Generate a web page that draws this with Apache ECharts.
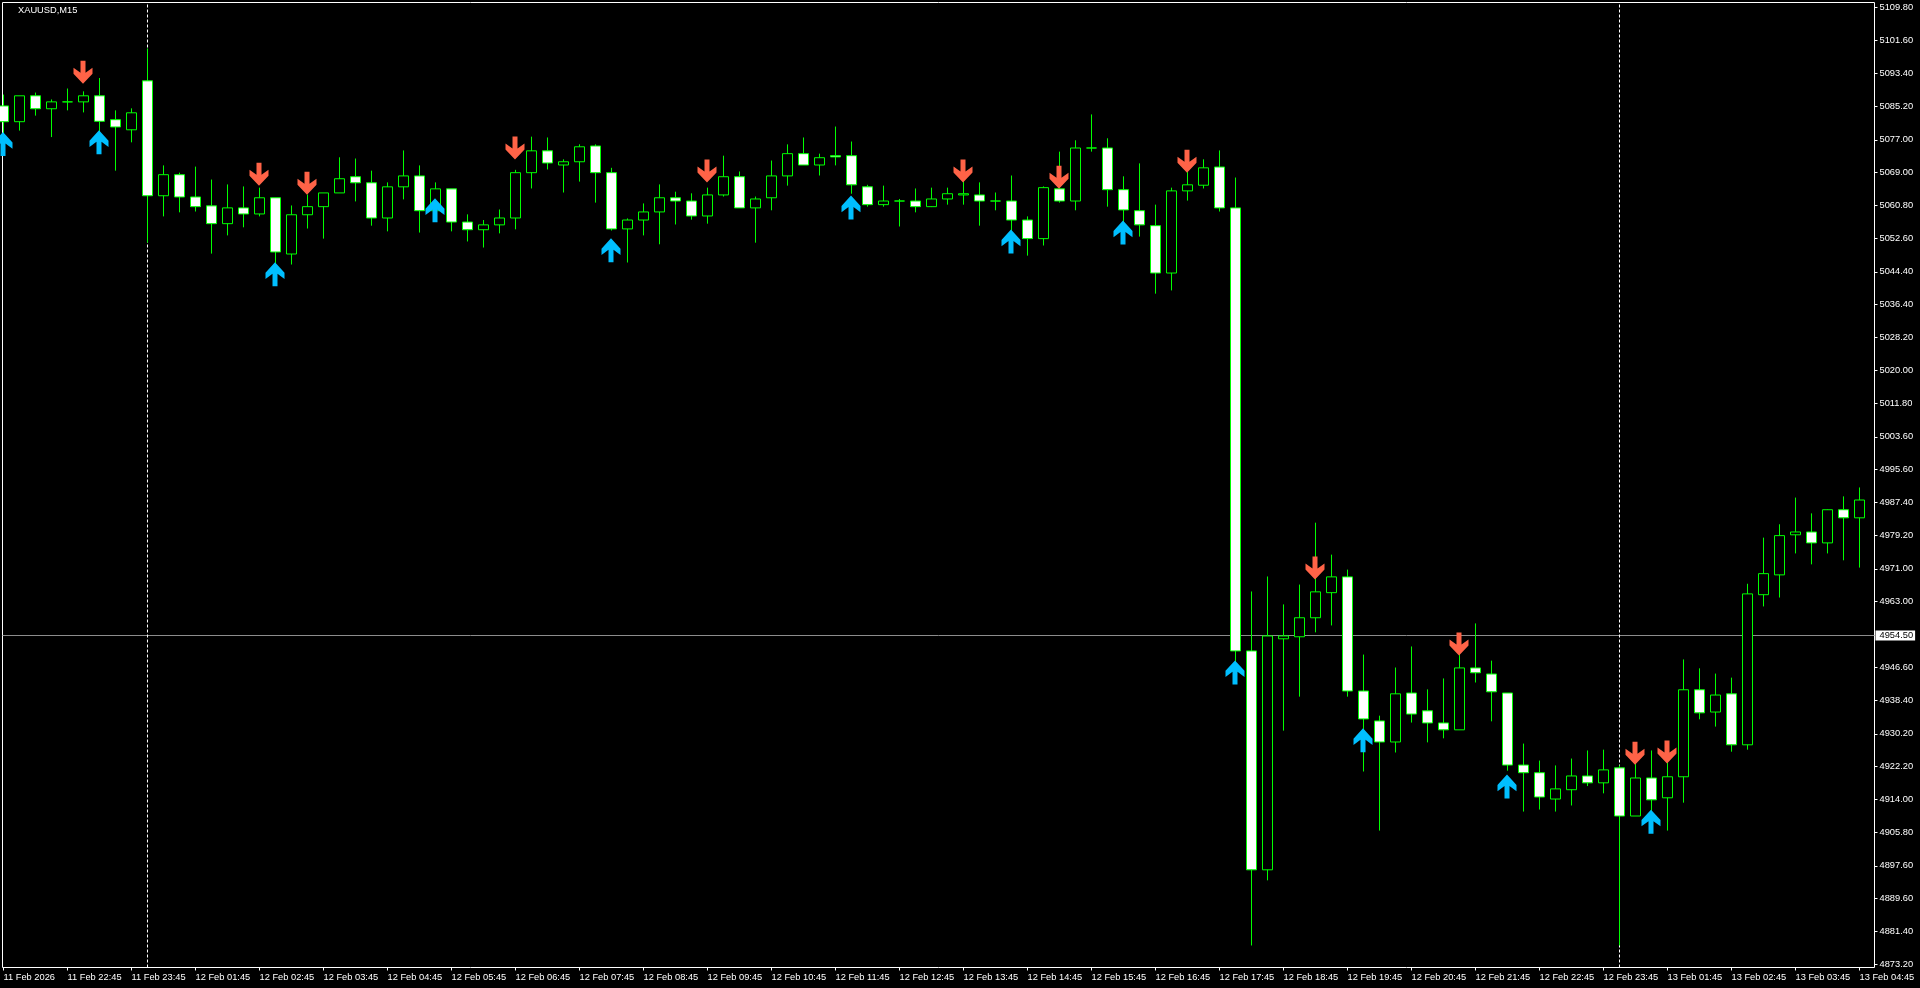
<!DOCTYPE html>
<html>
<head>
<meta charset="utf-8">
<title>XAUUSD,M15</title>
<style>
  html, body { margin: 0; padding: 0; background: #000; }
  #main { width: 1920px; height: 988px; }
</style>
<script src="https://cdn.jsdelivr.net/npm/echarts@6/dist/echarts.min.js"></script>
</head>
<body>
<div id="main"></div>
<script>
// 蜡烛数据，读自原图
var opens = [5085.4,5081.5,5087.9,5084.7,5086.4,5086.4,5087.9,5082.0,5079.5,5091.6,
  5063.2,5068.4,5062.9,5060.7,5056.3,5060.2,5058.7,5062.7,5048.8,5058.5,
  5060.5,5063.9,5067.9,5066.4,5057.7,5065.4,5068.1,5059.5,5064.9,5056.7,
  5054.8,5056.0,5057.7,5068.9,5074.3,5070.8,5071.6,5075.5,5068.9,5055.0,
  5057.2,5059.2,5062.7,5061.9,5058.2,5063.4,5067.9,5060.2,5062.7,5068.1,
  5073.6,5070.8,5073.1,5073.1,5065.4,5061.0,5061.9,5061.9,5060.5,5062.4,
  5063.4,5063.4,5061.9,5061.9,5057.2,5052.6,5064.9,5061.9,5075.0,5075.0,
  5064.7,5059.5,5055.8,5044.1,5064.4,5065.8,5070.3,5060.2,4950.7,4896.6,
  4953.7,4954.2,4958.9,4965.1,4969.0,4940.8,4933.4,4928.2,4940.3,4935.9,
  4932.9,4931.2,4946.5,4945.0,4940.3,4922.5,4920.6,4914.1,4916.4,4919.8,
  4918.1,4921.8,4909.9,4919.3,4914.4,4919.6,4941.1,4935.6,4940.1,4927.5,
  4964.6,4969.5,4979.4,4980.1,4977.4,4985.6,4983.6];
var closes = [5081.5,5087.9,5084.7,5086.4,5086.4,5087.9,5081.6,5080.2,5083.7,5063.2,
  5068.4,5062.9,5060.5,5056.3,5060.2,5058.7,5062.7,5049.3,5058.5,5060.5,
  5063.9,5067.4,5066.4,5057.7,5065.4,5068.1,5059.5,5064.9,5056.7,5054.8,
  5056.0,5057.7,5068.9,5074.3,5071.3,5071.6,5075.3,5068.9,5055.0,5057.2,
  5059.2,5062.7,5061.9,5058.2,5063.4,5067.9,5060.2,5062.4,5068.1,5073.6,
  5070.8,5072.6,5072.8,5065.9,5061.0,5061.9,5061.9,5060.5,5062.4,5063.7,
  5063.7,5061.9,5061.9,5057.2,5052.6,5065.2,5061.9,5075.0,5075.0,5064.7,
  5059.7,5056.0,5044.1,5064.4,5065.9,5070.1,5060.2,4950.7,4896.6,4954.4,
  4954.4,4958.9,4965.3,4969.0,4940.8,4933.9,4928.2,4940.1,4935.1,4932.9,
  4931.2,4946.5,4945.3,4940.6,4922.5,4920.6,4914.6,4916.6,4919.8,4918.1,
  4921.3,4909.9,4919.3,4913.9,4919.6,4941.1,4935.4,4939.8,4927.5,4964.8,
  4969.8,4979.2,4980.1,4977.4,4985.6,4983.6,4988.0];
var lows = [5076.9,5079.3,5083.0,5077.7,5084.3,5083.8,5078.5,5069.4,5076.4,5051.6,
  5058.1,5059.1,5059.3,5048.9,5053.4,5055.4,5058.1,5046.4,5046.2,5055.1,
  5052.6,5063.9,5061.8,5055.8,5054.4,5062.3,5054.1,5058.7,5054.4,5051.9,
  5050.4,5053.9,5054.9,5065.0,5069.7,5064.0,5066.7,5061.5,5054.6,5046.7,
  5053.4,5051.2,5056.1,5057.3,5056.3,5063.0,5060.2,5051.6,5059.6,5065.7,
  5070.8,5068.2,5070.7,5063.7,5060.5,5060.5,5055.6,5059.1,5060.4,5061.0,
  5061.0,5055.8,5059.6,5053.8,5048.4,5050.9,5061.5,5059.6,5074.1,5060.5,
  5056.3,5053.1,5039.0,5039.8,5062.0,5065.0,5059.3,4947.9,4877.9,4894.0,
  4931.0,4939.4,4955.3,4957.0,4939.4,4920.9,4906.3,4925.6,4933.0,4928.1,
  4929.1,4931.2,4942.9,4933.3,4921.1,4911.0,4911.5,4911.0,4912.5,4917.3,
  4915.5,4877.9,4909.9,4909.6,4906.3,4913.2,4933.8,4932.0,4925.8,4926.3,
  4961.7,4963.9,4974.8,4972.1,4974.8,4973.1,4971.3];
var highs = [5088.2,5087.9,5088.7,5087.0,5089.7,5089.0,5092.3,5084.3,5084.8,5099.6,
  5070.7,5068.9,5070.4,5067.2,5066.0,5065.5,5065.2,5062.7,5060.8,5063.5,
  5063.9,5072.7,5072.4,5069.4,5066.5,5074.4,5070.7,5066.5,5064.9,5058.6,
  5057.2,5059.8,5069.6,5077.8,5077.6,5072.2,5075.9,5075.9,5070.1,5057.6,
  5061.3,5066.0,5064.2,5063.8,5065.2,5073.1,5069.2,5063.0,5071.9,5075.9,
  5077.6,5073.6,5080.3,5076.6,5065.9,5065.7,5062.4,5065.0,5065.2,5065.2,
  5067.8,5066.5,5064.0,5068.2,5058.1,5065.5,5074.1,5076.9,5083.3,5077.4,
  5068.0,5071.2,5061.0,5065.2,5071.1,5072.2,5074.4,5067.7,4965.4,4969.1,
  4962.2,4967.1,4982.4,4974.5,4970.8,4949.8,4934.7,4946.6,4951.8,4941.2,
  4943.9,4950.8,4957.5,4948.3,4940.3,4927.8,4923.6,4922.4,4924.1,4926.1,
  4926.3,4922.4,4924.4,4926.1,4925.3,4948.6,4946.4,4945.1,4944.1,4967.3,
  4978.7,4982.0,4988.6,4984.7,4985.7,4988.9,4991.1];

// 箭头信号：蜡烛序号 + 价格
var upArrowIndex = [0,6,17,27,38,53,63,70,77,85,94,103];
var upArrowPrice = [5076.0,5076.4,5043.8,5059.6,5049.7,5060.3,5051.9,5054.1,4945.4,4928.6,4917.2,4908.5];
var downArrowIndex = [5,16,19,32,44,60,66,74,82,91,102,104];
var downArrowPrice = [5093.7,5068.5,5066.3,5075.0,5069.3,5069.3,5067.8,5071.7,4971.2,4952.4,4925.4,4925.7];

// 坐标轴刻度
var priceTicks = [5109.8,5101.6,5093.4,5085.2,5077,5069,5060.8,5052.6,5044.4,5036.4,5028.2,5020,5011.8,5003.6,
  4995.6,4987.4,4979.2,4971,4963,4946.6,4938.4,4930.2,4922.2,4914,4905.8,4897.6,4889.6,4881.4,4873.2];
var timeLabels = ['11 Feb 2026','11 Feb 22:45','11 Feb 23:45','12 Feb 01:45','12 Feb 02:45','12 Feb 03:45',
  '12 Feb 04:45','12 Feb 05:45','12 Feb 06:45','12 Feb 07:45','12 Feb 08:45','12 Feb 09:45','12 Feb 10:45',
  '12 Feb 11:45','12 Feb 12:45','12 Feb 13:45','12 Feb 14:45','12 Feb 15:45','12 Feb 16:45','12 Feb 17:45',
  '12 Feb 18:45','12 Feb 19:45','12 Feb 20:45','12 Feb 21:45','12 Feb 22:45','12 Feb 23:45','13 Feb 01:45',
  '13 Feb 02:45','13 Feb 03:45','13 Feb 04:45'];
var currentPrice = 4954.5;
var separatorIndex = [9, 101];

var font = '"Liberation Sans"';
var downArrowPath = 'path://M7 0H12V12L19 7V13L9.5 23L0 13V7L7 12Z';
var upArrowPath = 'path://M7 23H12V11L19 16V10L9.5 0L0 10V16L7 11Z';

var candleData = opens.map(function (o, i) {
  return [i, o, closes[i], lows[i], highs[i]];
});
// 每4根蜡烛一个时间刻度
var timeTicks = timeLabels.map(function (t, i) { return i * 4; });

var myChart = echarts.init(document.getElementById('main'));
var option = {
  animation: false,
  backgroundColor: '#000',
  title: {
    text: 'XAUUSD,M15',
    left: 18,
    top: 6,
    padding: 0,
    textStyle: { color: '#fff', fontSize: 9.3, fontWeight: 'normal', fontFamily: font }
  },
  grid: {
    show: true,
    left: 2.5,
    top: 2.5,
    width: 1872,
    height: 965,
    backgroundColor: '#000',
    borderColor: '#fff',
    borderWidth: 1
  },
  xAxis: {
    type: 'value',
    min: -0.0625,
    max: 116.9375,
    splitLine: { show: false },
    axisLine: { show: false, onZero: false },
    axisTick: { show: true, length: 3, customValues: timeTicks, lineStyle: { color: '#fff' } },
    axisLabel: {
      customValues: timeTicks,
      color: '#fff',
      fontFamily: font,
      fontSize: 9.3,
      align: 'left',
      margin: 5,
      formatter: function (v) { return timeLabels[v / 4]; }
    }
  },
  yAxis: {
    type: 'value',
    position: 'right',
    min: 4872.46,
    max: 5110.96,
    splitLine: { show: false },
    // y轴不要跟着x=0走，否则刻度跑到左边
    axisLine: { show: false, onZero: false },
    axisTick: { show: true, length: 3, customValues: priceTicks, lineStyle: { color: '#fff' } },
    axisLabel: {
      customValues: priceTicks,
      color: '#fff',
      fontFamily: font,
      fontSize: 9.3,
      margin: 5,
      padding: [2, 0, 0, 0],
      formatter: function (v) { return v.toFixed(2); }
    }
  },
  series: [
    {
      name: 'XAUUSD',
      type: 'candlestick',
      barWidth: 10,
      encode: { x: 0, y: [1, 2, 3, 4] },
      itemStyle: {
        color: '#000',
        color0: '#fff',
        borderColor: '#00ff00',
        borderColor0: '#00ff00',
        borderColorDoji: '#00ff00',
        borderWidth: 1
      },
      data: candleData,
      markLine: {
        silent: true,
        z: 1,
        symbol: 'none',
        animation: false,
        data: [
          {
            yAxis: currentPrice,
            lineStyle: { color: '#8c8c8c', type: 'solid', width: 1 },
            label: {
              show: true,
              position: 'end',
              distance: 1,
              formatter: currentPrice.toFixed(2),
              color: '#000',
              backgroundColor: '#fff',
              fontFamily: font,
              fontSize: 9.3,
              lineHeight: 10,
              padding: [0, 2, 0, 4]
            }
          }
        ].concat(separatorIndex.map(function (i) {
          return {
            xAxis: i,
            lineStyle: { color: '#fff', type: [3, 2], width: 1 },
            label: { show: false }
          };
        }))
      }
    },
    {
      name: 'down',
      type: 'scatter',
      z: 5,
      symbol: downArrowPath,
      symbolSize: [19, 23],
      symbolOffset: [-0.5, 0],
      itemStyle: { color: '#ff6347', opacity: 1 },
      data: downArrowIndex.map(function (i, k) { return [i, downArrowPrice[k]]; })
    },
    {
      name: 'up',
      type: 'scatter',
      z: 5,
      symbol: upArrowPath,
      symbolSize: [19, 24],
      symbolOffset: [-0.5, 0],
      itemStyle: { color: '#00bfff', opacity: 1 },
      data: upArrowIndex.map(function (i, k) { return [i, upArrowPrice[k]]; })
    }
  ]
};
myChart.setOption(option);
</script>
</body>
</html>
